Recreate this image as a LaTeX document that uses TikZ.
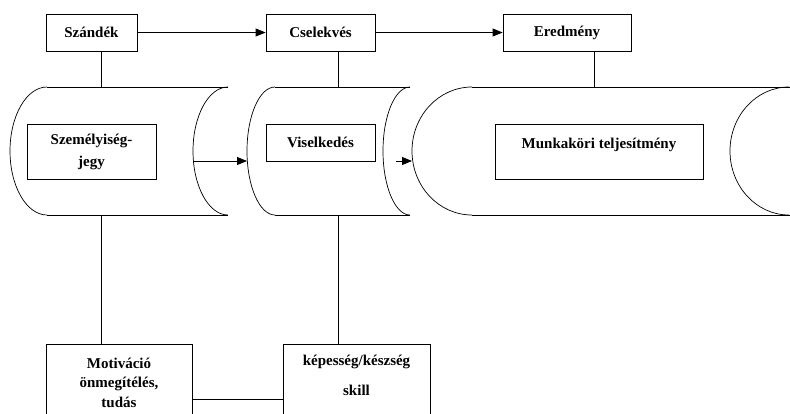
\documentclass[tikz,border=0pt]{standalone}
\usepackage{fontspec}
\setmainfont{Liberation Serif}
\usetikzlibrary{arrows.meta}
\begin{document}
\begin{tikzpicture}[x=1pt,y=1pt,
  txt/.style={font=\bfseries\fontsize{15}{22}\selectfont, align=center, inner sep=0pt},
  box/.style={draw, line width=0.8pt, inner sep=0pt, txt},
  line/.style={line width=0.8pt},
  arr/.style={line width=0.8pt, -{Triangle[length=10pt,width=8pt]}},
  endarc/.style={line width=0.7pt}]
\useasboundingbox (0,0) rectangle (790,-413);
\clip (0,0) rectangle (790,-413);

% top boxes
\node[box, minimum width=91pt, minimum height=37pt] (sz) at (91.5,-32.5) {Szándék};
\node[box, minimum width=109pt, minimum height=37pt] (cs) at (320.5,-32.5) {Cselekvés};
\node[box, minimum width=128pt, minimum height=37pt] (er) at (567,-32.5) {Eredmény};

\draw[arr] (sz.east) -- (cs.west);
\draw[arr] (cs.east) -- (er.west);

% cylinders
\draw[line] (47,-87) -- (228,-87);
\draw[line] (47,-215) -- (228,-215);
\draw[endarc] (47,-87) arc[start angle=90,end angle=270,x radius=37pt,y radius=64pt];
\draw[endarc] (228,-87) arc[start angle=90,end angle=270,x radius=35pt,y radius=64pt];

\draw[line] (275,-87) -- (410,-87);
\draw[line] (275,-215) -- (410,-215);
\draw[endarc] (275,-87) arc[start angle=90,end angle=270,x radius=28pt,y radius=64pt];
\draw[endarc] (410,-87) arc[start angle=90,end angle=270,x radius=27pt,y radius=64pt];

\draw[line] (472,-87) -- (790,-87);
\draw[line] (472,-215) -- (790,-215);
\draw[endarc] (472,-87) arc[start angle=90,end angle=270,x radius=60pt,y radius=64pt];
\draw[endarc] (789,-87) arc[start angle=90,end angle=270,x radius=59pt,y radius=64pt];

% connection points
\coordinate (c1t) at (101,-87);
\coordinate (c1b) at (101,-215);
\coordinate (c2t) at (338,-87);
\coordinate (c2b) at (338,-215);
\coordinate (c3t) at (594,-87);
\coordinate (a1s) at (193,-161);
\coordinate (a1e) at (247,-161);
\coordinate (a2s) at (396,-161);
\coordinate (a2e) at (412,-161);
\coordinate (hy) at (0,-399);

\draw[line] (sz.south -| c1t) -- (c1t);
\draw[line] (cs.south -| c2t) -- (c2t);
\draw[line] (er.south -| c3t) -- (c3t);

% inner boxes
\node[box, minimum width=129pt, minimum height=55pt] (sj) at (91.5,-151.5) {Személyiség-\\jegy};
\node[box, minimum width=109pt, text height=23pt, text depth=14pt, anchor=base] (vi) at (320.5,-147) {Viselkedés};
\node[box, minimum width=208pt, text height=24pt, text depth=31pt, anchor=base] (mt) at (599,-148) {Munkaköri teljesítmény};

\draw[arr] (a1s) -- (a1e);
\draw[arr] (a2s) -- (a2e);

% bottom boxes
\node[draw, line width=0.8pt, minimum width=146pt, minimum height=100pt, anchor=north] (mo) at (119,-344) {};
\node[txt, anchor=north, font=\bfseries\fontsize{15}{19.5}\selectfont] (mot) at (119,-357.5) {Motiváció\\önmegítélés,\\tudás};
\node[draw, line width=0.8pt, minimum width=147pt, minimum height=100pt, anchor=north] (ke) at (356.5,-344) {};
\node[txt, anchor=north, font=\bfseries\fontsize{15}{30}\selectfont] (ket) at (356.5,-354.5) {képesség/készség\\skill};

\draw[line] (c1b) -- (mo.north -| c1b);
\draw[line] (c2b) -- (ke.north -| c2b);
\draw[line] (mo.east |- hy) -- (ke.west |- hy);
\end{tikzpicture}
\end{document}
